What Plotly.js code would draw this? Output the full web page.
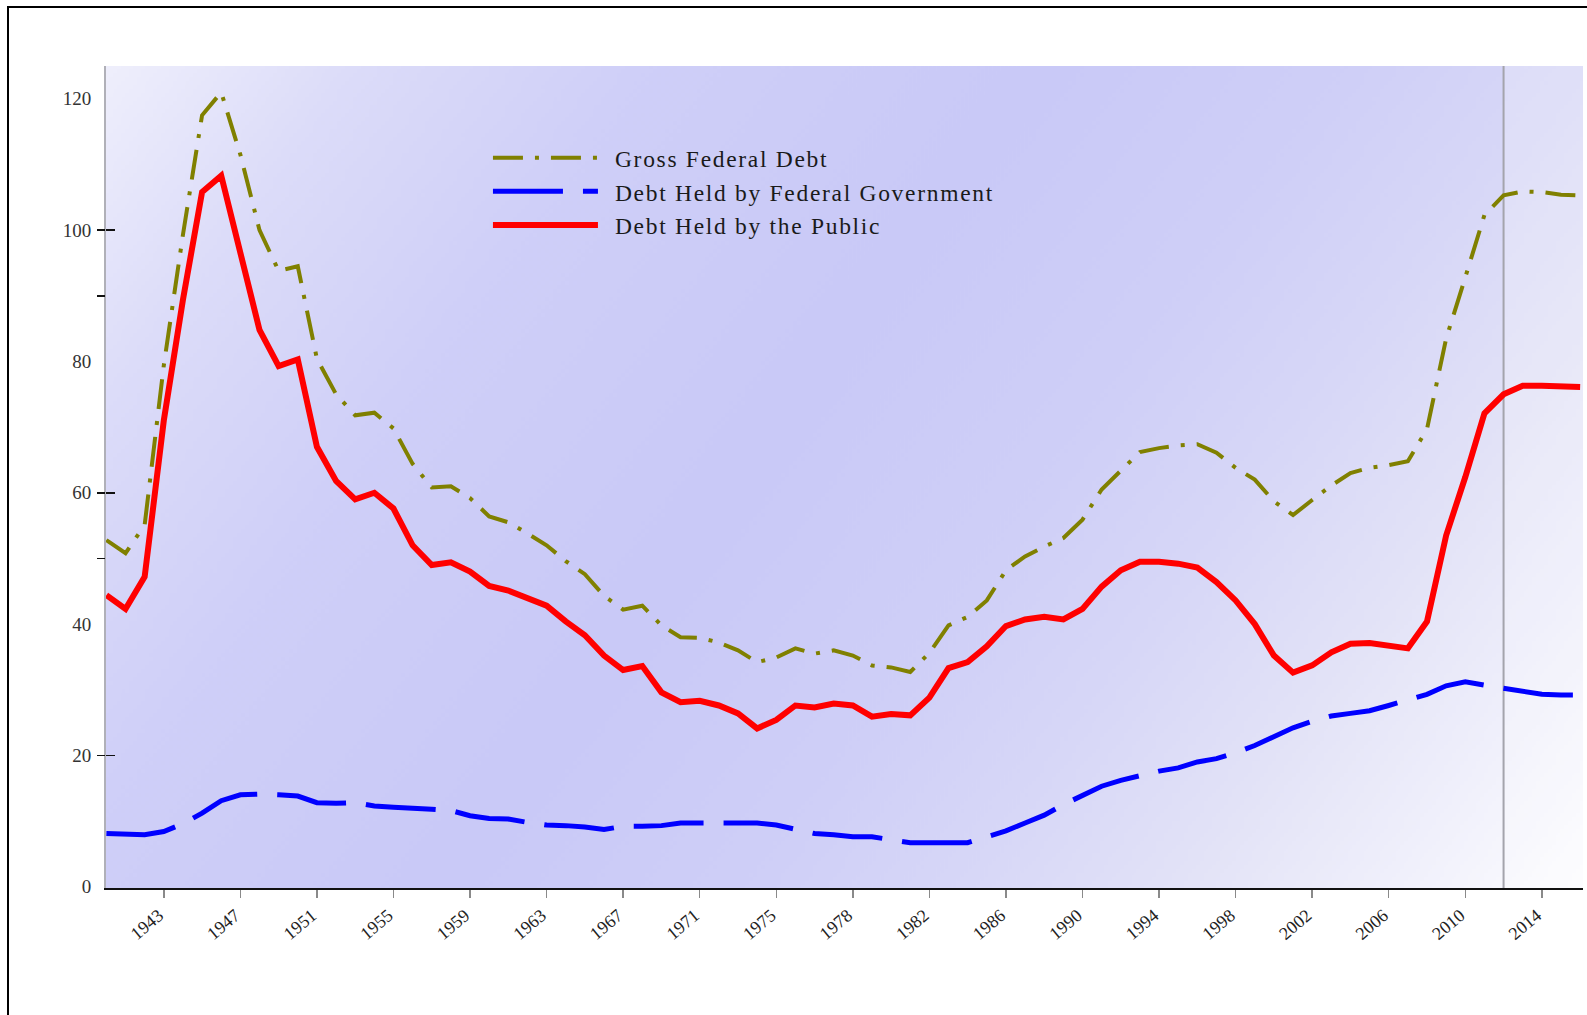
<!DOCTYPE html>
<html><head><meta charset="utf-8">
<script src="https://cdn.plot.ly/plotly-3.0.1.min.js"></script>
<style>
html,body{margin:0;padding:0;background:#fff;overflow:hidden;}
#chart{position:absolute;left:0;top:0;width:1587px;height:1015px;}
#frame{position:absolute;left:7px;top:6px;width:1700px;height:1100px;border-left:2px solid #000;border-top:2px solid #000;pointer-events:none;}
#chart .legendtext{letter-spacing:1.7px;transform:translateX(12px);}
#chart .legend .scrollbox{clip-path:none !important;}
#chart .legend{overflow:visible;}
</style></head><body>
<div id="chart"></div><div id="frame"></div>
<script>
// Fiscal years (TQ = transition quarter 1976)
const years = ['1940','1941','1942','1943','1944','1945','1946','1947','1948','1949',
  '1950','1951','1952','1953','1954','1955','1956','1957','1958','1959',
  '1960','1961','1962','1963','1964','1965','1966','1967','1968','1969',
  '1970','1971','1972','1973','1974','1975','1976','TQ','1977','1978','1979',
  '1980','1981','1982','1983','1984','1985','1986','1987','1988','1989',
  '1990','1991','1992','1993','1994','1995','1996','1997','1998','1999',
  '2000','2001','2002','2003','2004','2005','2006','2007','2008','2009',
  '2010','2011','2012','2013','2014','2015','2016'];

// Debt as percent of GDP
const grossFederalDebt = [52.8,50.8,55.1,79.4,99.3,117.5,121.0,111.5,100.0,93.8,
  94.5,80.4,75.0,71.8,72.2,69.8,64.4,60.8,61.0,59.2,
  56.4,55.5,53.8,52.0,49.6,47.6,44.3,42.2,42.8,39.8,
  38.0,37.9,37.2,36.0,34.2,34.9,36.3,35.5,36.0,35.2,33.7,
  33.4,32.7,35.6,39.8,41.1,43.6,48.2,50.3,51.8,53.1,
  55.9,60.5,63.3,66.2,66.8,67.2,67.4,66.1,63.8,62.0,
  58.7,56.6,58.9,61.1,63.0,63.8,64.2,64.8,69.7,83.5,
  92.8,102.3,105.3,105.9,105.8,105.4,105.3];
const debtHeldByFederalGovernment = [8.1,8.0,7.9,8.4,9.6,11.2,13.1,14.0,14.1,14.0,
  13.8,12.8,12.7,12.8,12.3,12.1,12.0,11.8,11.6,10.8,
  10.4,10.3,9.8,9.4,9.3,9.1,8.7,9.2,9.2,9.3,
  9.7,9.7,9.7,9.7,9.7,9.4,8.8,8.1,7.9,7.6,7.6,
  7.2,6.7,6.7,6.7,6.7,7.6,8.5,9.7,10.9,12.5,
  13.9,15.3,16.2,16.9,17.6,18.1,19.0,19.5,20.4,21.5,
  22.9,24.2,25.2,26.0,26.4,26.8,27.6,28.5,29.3,30.6,
  31.2,30.7,30.2,29.7,29.3,29.2,29.2];
const debtHeldByPublic = [44.4,42.3,47.2,71.0,89.4,105.8,108.3,96.8,84.8,79.3,
  80.3,67.0,61.8,59.0,60.0,57.6,52.0,49.0,49.4,48.0,
  45.8,45.1,44.0,42.8,40.4,38.3,35.2,33.0,33.6,29.6,
  28.1,28.3,27.6,26.4,24.1,25.4,27.6,27.3,27.9,27.6,25.9,
  26.3,26.1,28.8,33.3,34.2,36.6,39.7,40.7,41.1,40.7,
  42.3,45.7,48.2,49.5,49.5,49.2,48.6,46.4,43.6,40.0,
  35.2,32.6,33.7,35.7,37.0,37.1,36.7,36.3,40.4,53.5,
  62.4,72.1,75.0,76.3,76.3,76.2,76.1];

const seriesNames = ['Gross Federal Debt','Debt Held by Federal Government','Debt Held by the Public'];
const xTickYears = ['1943','1947','1951','1955','1959','1963','1967','1971','1975','1978',
  '1982','1986','1990','1994','1998','2002','2006','2010','2014'];
const yTickVals = [0,20,40,60,80,100,120];
const yOuterMarks = [20,50,60,90,100];
const yInnerMarks = [20,60,100];
const projectionStart = '2012';

// gradient plot background (diagonal lavender band)
function gradientURL(){
  const w = 739, h = 411, c = document.createElement('canvas');
  c.width = w; c.height = h;
  const g = c.getContext('2d');
  const gr = g.createLinearGradient(0,0,677.5,494.5);
  gr.addColorStop(0.00,'#efeffc');
  gr.addColorStop(0.12,'#dcdcf9');
  gr.addColorStop(0.26,'#cfcff8');
  gr.addColorStop(0.45,'#c9c9f7');
  gr.addColorStop(0.60,'#cfcff7');
  gr.addColorStop(0.70,'#d7d7f7');
  gr.addColorStop(0.80,'#e2e2f7');
  gr.addColorStop(0.90,'#efeffb');
  gr.addColorStop(1.00,'#fdfdff');
  g.fillStyle = gr; g.fillRect(0,0,w,h);
  return c.toDataURL('image/png');
}

const serif = 'Liberation Serif, Times New Roman, serif';
const traces = [
  {x: years, y: grossFederalDebt, name: seriesNames[0], type:'scatter', mode:'lines',
   line:{color:'#808000', width:4, dash:'30px,12px,4px,12px'}},
  {x: years, y: debtHeldByFederalGovernment, name: seriesNames[1], type:'scatter', mode:'lines',
   line:{color:'#0000ff', width:5, dash:'70px,20px'}},
  {x: years, y: debtHeldByPublic, name: seriesNames[2], type:'scatter', mode:'lines',
   line:{color:'#ff0000', width:6}}
];
// invisible companions so the overlay tick-mark axes are drawn
traces.push({x: years, y: debtHeldByPublic, yaxis:'y2', type:'scatter', mode:'lines',
  line:{width:0}, hoverinfo:'skip', showlegend:false, opacity:0});
traces.push({x: years, y: debtHeldByPublic, yaxis:'y3', type:'scatter', mode:'lines',
  line:{width:0}, hoverinfo:'skip', showlegend:false, opacity:0});

const pIdx = years.indexOf(projectionStart);
const yRange = [-0.2, 125.0];
const layout = {
  width:1587, height:1015,
  margin:{l:106, r:4, t:66, b:127},
  paper_bgcolor:'rgba(0,0,0,0)', plot_bgcolor:'rgba(0,0,0,0)',
  showlegend:true,
  font:{family:serif, color:'#222'},
  xaxis:{type:'category', range:[-0.02, years.length - 0.85],
    tickmode:'array', tickvals:xTickYears, ticktext:xTickYears,
    tickangle:-40, tickfont:{family:serif, size:18, color:'#222'}, ticklabelshift:-5,
    ticks:'outside', ticklen:8, tickwidth:1.5, tickcolor:'#8a8a8a',
    showline:true, linecolor:'#111', linewidth:2, showgrid:false, zeroline:false, fixedrange:true},
  yaxis:{range:yRange, tickmode:'array', tickvals:yTickVals, ticktext:yTickVals.map(String),
    tickfont:{family:serif, size:19, color:'#333'}, ticks:'', ticklabelstandoff:9,
    showline:true, linecolor:'#b0b0b8', linewidth:2, showgrid:false, zeroline:false, fixedrange:true},
  yaxis2:{overlaying:'y', range:yRange, tickmode:'array', tickvals:yOuterMarks,
    showticklabels:false, ticks:'outside', ticklen:8, tickwidth:1.5, tickcolor:'#111',
    showline:false, showgrid:false, zeroline:false, fixedrange:true},
  yaxis3:{overlaying:'y', range:yRange, tickmode:'array', tickvals:yInnerMarks,
    showticklabels:false, ticks:'inside', ticklen:9, tickwidth:1.5, tickcolor:'#111',
    showline:false, showgrid:false, zeroline:false, fixedrange:true},
  legend:{x:0.2586, y:0.9148, xanchor:'left', yanchor:'top', bgcolor:'rgba(0,0,0,0)',
    borderwidth:0, itemwidth:105, font:{family:serif, size:23.5, color:'#1a1a1a'}},
  images:[{source:gradientURL(), xref:'paper', yref:'paper', x:0, y:1, sizex:1, sizey:1,
    sizing:'stretch', xanchor:'left', yanchor:'top', layer:'below'}],
  shapes:[
    {type:'rect', xref:'x', yref:'paper', x0:pIdx, x1:years.length+2, y0:0, y1:1,
     fillcolor:'rgba(255,255,255,0.2)', line:{width:0}, layer:'between'},
    {type:'line', xref:'x', yref:'paper', x0:pIdx, x1:pIdx, y0:0, y1:1,
     line:{color:'#a4a4ac', width:2}, layer:'between'}
  ]
};

Plotly.newPlot('chart', traces, layout, {staticPlot:true, displayModeBar:false});
</script>
</body></html>
